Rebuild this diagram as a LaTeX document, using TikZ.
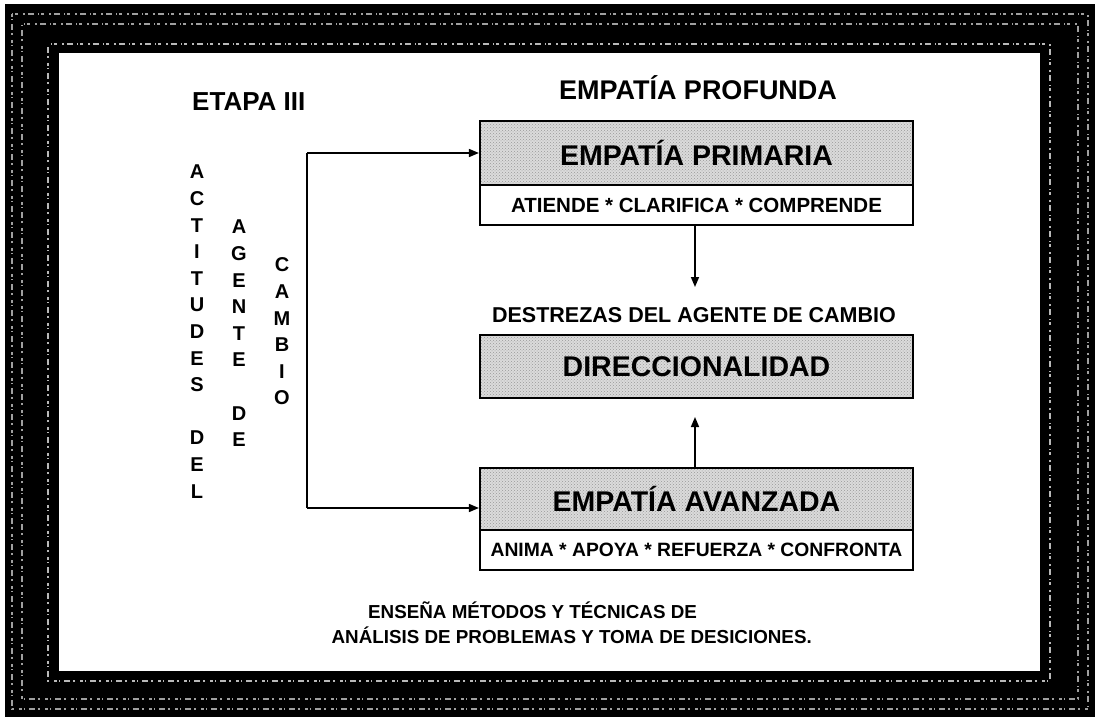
\documentclass[tikz,border=0pt]{standalone}
\usepackage{fontspec}
\setmainfont{Liberation Sans}
\usetikzlibrary{arrows.meta,patterns}
\begin{document}
\begin{tikzpicture}[x=1pt,y=-1pt,
  fs/.style={font=\fontsize{#1}{#1}\selectfont\bfseries},
  hdr/.style={draw, line width=2.2pt, minimum width=433pt, minimum height=#1, inner sep=0pt,
    preaction={fill=gray!28}, pattern=crosshatch dots, pattern color=gray!80,
    font=\fontsize{28.5}{30}\selectfont\bfseries},
  subrow/.style={draw, line width=2.2pt, fill=white, minimum width=433pt, minimum height=40pt, inner sep=0pt},
  arr/.style={line width=1.6pt, -{Triangle[length=10pt,width=8pt]}},
  plain/.style={line width=1.6pt},
  speck/.style={draw=gray!75, line width=1.6pt, dash pattern=on 3pt off 2pt on 1pt off 4pt on 6pt off 3pt on 2pt off 5pt},
  vlet/.style={fs=20, inner sep=0pt, anchor=center}
]
\useasboundingbox (0,0) rectangle (1095,717);
% frame
\fill[black] (5,4) rectangle (1095,717);
\draw[speck] (12,14) rectangle (1088,709);
\draw[speck, dash phase=4pt] (22,24) rectangle (1078,699);
\draw[speck, dash phase=7pt, draw=gray!55] (48,44) rectangle (1050,681);
\fill[white] (59,53) rectangle (1040,671);

% titles
\node[fs=26, anchor=west, inner sep=0pt] (etapa) at (192,102) {ETAPA III};
\node[fs=27, inner sep=0pt] (prof) at (698,88) {EMPATÍA PROFUNDA};

% vertical words
\foreach \l [count=\i from 0] in {A,C,T,I,T,U,D,E,S,{},D,E,L}
  \node[vlet] (act\i) at (197,{172+26.6*\i}) {\l};
\foreach \l [count=\i from 0] in {A,G,E,N,T,E,{},D,E}
  \node[vlet] (age\i) at (239,{227+26.6*\i}) {\l};
\foreach \l [count=\i from 0] in {C,A,M,B,I,O}
  \node[vlet] (cam\i) at (282,{265+26.6*\i}) {\l};

% boxes
\node[hdr=64pt] (prim) at (696.5,153) {EMPATÍA PRIMARIA};
\node[subrow, fs=20.5] (primsub) at (696.5,205) {ATIENDE * CLARIFICA * COMPRENDE};
\node[fs=21.5, inner sep=0pt] (destr) at (694,315) {DESTREZAS DEL AGENTE DE CAMBIO};
\node[hdr=63pt] (dir) at (696.5,366.5) {DIRECCIONALIDAD};
\node[hdr=62pt] (avz) at (696.5,499) {EMPATÍA AVANZADA};
\node[subrow, fs=19.3] (avzsub) at (696.5,550) {ANIMA * APOYA * REFUERZA * CONFRONTA};

% bottom text
\node[fs=18.8, anchor=west, inner sep=0pt] (ens1) at (368,610) {ENSEÑA MÉTODOS Y TÉCNICAS DE};
\node[fs=18.8, anchor=east, inner sep=0pt] (ens2) at (812,635) {ANÁLISIS DE PROBLEMAS Y TOMA DE DESICIONES.};

% connectors
\coordinate (tl) at (307,153);
\coordinate (bl) at (307,508);
\coordinate (d1) at (695,287);
\coordinate (u1) at (695,417);
\draw[arr] (tl) -- (prim.west);
\draw[plain] (tl) -- (bl);
\draw[arr] (bl) -- (bl -| avz.west);
\draw[arr] (primsub.south -| d1) -- (d1);
\draw[arr] (avz.north -| u1) -- (u1);
\end{tikzpicture}
\end{document}
